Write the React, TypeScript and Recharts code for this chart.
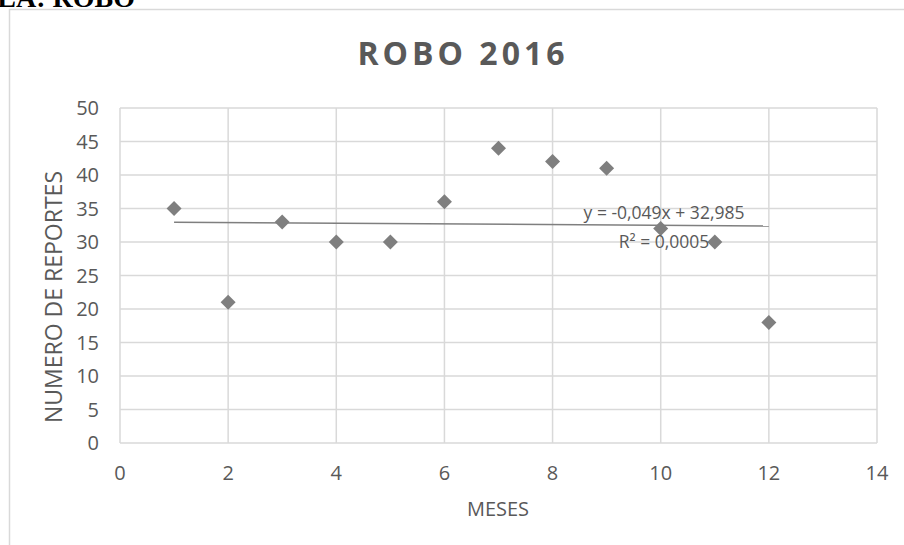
import React from "react";
import {
  ScatterChart,
  Scatter,
  XAxis,
  YAxis,
  CartesianGrid,
  ReferenceLine,
} from "recharts";

const meses = [1, 2, 3, 4, 5, 6, 7, 8, 9, 10, 11, 12];
const reportes = [35, 21, 33, 30, 30, 36, 44, 42, 41, 32, 30, 18];
const xTicks = [0, 2, 4, 6, 8, 10, 12, 14];
const yTicks = [0, 5, 10, 15, 20, 25, 30, 35, 40, 45, 50];
const trendSlope = -0.049;
const trendIntercept = 32.985;
const trendLabel = "y = -0,049x + 32,985";
const r2Label = "R² = 0,0005";
const title = "ROBO 2016";
const xTitle = "MESES";
const yTitle = "NUMERO DE REPORTES";
const headerText = "TABLA: ROBO";

const data = meses.map((m, i) => ({ x: m, y: reportes[i] }));
const xFirst = meses[0];
const xLast = meses[meses.length - 1];

const FONT = "'Open Sans', sans-serif";
const TEXT = "#595959";
const GRID = "#d9d9d9";
const MARK = "#7f7f7f";

const Diamond = (props: any) => {
  const { cx, cy } = props;
  const h = 7.5;
  return (
    <path
      d={`M${cx},${cy - h} L${cx + h},${cy} L${cx},${cy + h} L${cx - h},${cy} Z`}
      fill={MARK}
    />
  );
};

export default function App() {
  return (
    <div
      style={{
        position: "absolute",
        left: 0,
        top: 0,
        width: 904,
        height: 545,
        background: "#fff",
        overflow: "hidden",
      }}
    >
      <ScatterChart
        width={904}
        height={545}
        margin={{ top: 108, right: 27, bottom: 42, left: 40 }}
        style={{ position: "absolute", left: 0, top: 0 }}
      >
        <CartesianGrid stroke={GRID} strokeWidth={1.5} />
        <XAxis
          type="number"
          dataKey="x"
          domain={[0, 14]}
          ticks={xTicks}
          axisLine={false}
          tickLine={false}
          tickSize={0}
          tickMargin={23}
          height={60}
          tick={{ fill: TEXT, fontSize: 20, fontFamily: FONT }}
        />
        <YAxis
          type="number"
          dataKey="y"
          domain={[0, 50]}
          ticks={yTicks}
          axisLine={false}
          tickLine={false}
          tickSize={0}
          tickMargin={21}
          width={80}
          tick={{ fill: TEXT, fontSize: 20, fontFamily: FONT }}
        />
        <ReferenceLine
          segment={[
            { x: xFirst, y: trendIntercept + trendSlope * xFirst },
            { x: xLast, y: trendIntercept + trendSlope * xLast },
          ]}
          stroke={MARK}
          strokeWidth={1.5}
          ifOverflow="visible"
        />
        <Scatter data={data} shape={Diamond} isAnimationActive={false} />
      </ScatterChart>
      <svg
        width={904}
        height={545}
        style={{ position: "absolute", left: 0, top: 0, pointerEvents: "none" }}
      >
        <rect x={9.5} y={9.5} width={920} height={560} fill="none" stroke={GRID} strokeWidth={1.5} />
        <text
          x={135}
          y={6.5}
          textAnchor="end"
          fontFamily="'Liberation Serif', serif"
          fontWeight="bold"
          fontSize={28}
          fill="#000"
        >
          {headerText}
        </text>
        <text
          x={463}
          y={52}
          textAnchor="middle"
          dominantBaseline="central"
          fontFamily={FONT}
          fontWeight="bold"
          fontSize={32}
          letterSpacing={4}
          fill={TEXT}
        >
          {title}
        </text>
        <text
          x={498}
          y={508}
          textAnchor="middle"
          dominantBaseline="central"
          fontFamily={FONT}
          fontSize={20}
          fill={TEXT}
        >
          {xTitle}
        </text>
        <text
          x={53}
          y={297}
          textAnchor="middle"
          dominantBaseline="central"
          transform="rotate(-90 53 297)"
          fontFamily={FONT}
          fontSize={23}
          fill={TEXT}
        >
          {yTitle}
        </text>
        <text
          x={664}
          y={212}
          textAnchor="middle"
          dominantBaseline="central"
          fontFamily={FONT}
          fontSize={17.5}
          fill={TEXT}
        >
          {trendLabel}
        </text>
        <text
          x={664}
          y={241}
          textAnchor="middle"
          dominantBaseline="central"
          fontFamily={FONT}
          fontSize={17.5}
          fill={TEXT}
        >
          {r2Label}
        </text>
      </svg>
    </div>
  );
}
